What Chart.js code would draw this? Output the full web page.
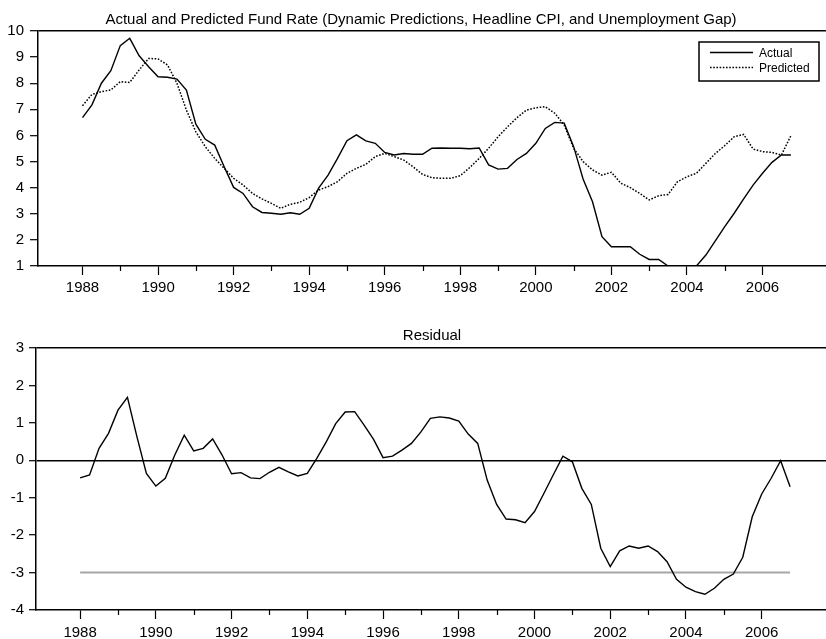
<!DOCTYPE html>
<html><head><meta charset="utf-8">
<script src="https://cdn.jsdelivr.net/npm/chart.js@4.4.0/dist/chart.umd.min.js"></script>
<style>
html,body{margin:0;padding:0;background:#fff;}
#wrap{position:relative;width:826px;height:639px;overflow:hidden;background:#fff;}
#c1{position:absolute;left:0;top:0;}
#c2{position:absolute;left:0;top:300px;}
</style></head><body>
<div id="wrap"><canvas id="c1" width="826" height="300"></canvas><canvas id="c2" width="826" height="339"></canvas></div>
<script>
const quarters = [
 '1988Q1','1988Q2','1988Q3','1988Q4','1989Q1','1989Q2','1989Q3','1989Q4',
 '1990Q1','1990Q2','1990Q3','1990Q4','1991Q1','1991Q2','1991Q3','1991Q4',
 '1992Q1','1992Q2','1992Q3','1992Q4','1993Q1','1993Q2','1993Q3','1993Q4',
 '1994Q1','1994Q2','1994Q3','1994Q4','1995Q1','1995Q2','1995Q3','1995Q4',
 '1996Q1','1996Q2','1996Q3','1996Q4','1997Q1','1997Q2','1997Q3','1997Q4',
 '1998Q1','1998Q2','1998Q3','1998Q4','1999Q1','1999Q2','1999Q3','1999Q4',
 '2000Q1','2000Q2','2000Q3','2000Q4','2001Q1','2001Q2','2001Q3','2001Q4',
 '2002Q1','2002Q2','2002Q3','2002Q4','2003Q1','2003Q2','2003Q3','2003Q4',
 '2004Q1','2004Q2','2004Q3','2004Q4','2005Q1','2005Q2','2005Q3','2005Q4',
 '2006Q1','2006Q2','2006Q3','2006Q4'
];
const actualRate = [
 6.68,7.17,8.00,8.48, 9.44,9.72,9.05,8.63, 8.25,8.23,8.16,7.74, 6.43,5.85,5.63,4.80,
 4.01,3.78,3.27,3.05, 3.02,2.98,3.04,2.98, 3.21,3.98,4.48,5.12, 5.80,6.02,5.79,5.70,
 5.35,5.25,5.31,5.28, 5.28,5.51,5.52,5.51, 5.51,5.49,5.52,4.87, 4.71,4.74,5.08,5.31,
 5.70,6.27,6.50,6.47, 5.57,4.33,3.46,2.12, 1.74,1.74,1.74,1.45, 1.25,1.25,1.00,1.00,
 1.00,1.00,1.42,1.96, 2.51,3.02,3.57,4.10, 4.55,4.97,5.25,5.25
];
const predictedRate = [
 7.14,7.57,7.68,7.74, 8.06,8.03,8.51,8.95, 8.93,8.70,8.00,6.97, 6.14,5.57,5.12,4.74,
 4.36,4.10,3.78,3.57, 3.40,3.21,3.36,3.44, 3.62,3.91,4.04,4.23, 4.55,4.74,4.89,5.19,
 5.31,5.19,5.06,4.80, 4.51,4.38,4.36,4.36, 4.46,4.77,5.12,5.51, 5.95,6.33,6.68,6.97,
 7.06,7.10,6.85,6.40, 5.51,5.00,4.68,4.48, 4.59,4.17,4.00,3.78, 3.53,3.69,3.74,4.23,
 4.42,4.55,4.93,5.31, 5.61,5.95,6.04,5.48, 5.38,5.35,5.25,5.99
];
const residual = [
 -0.47,-0.39,0.32,0.72, 1.34,1.68,0.63,-0.35, -0.69,-0.48,0.14,0.67, 0.25,0.32,0.57,0.14,
 -0.36,-0.33,-0.47,-0.49, -0.32,-0.19,-0.31,-0.42, -0.35,0.05,0.49,0.98, 1.29,1.30,0.94,0.56,
 0.07,0.11,0.27,0.45, 0.76,1.12,1.16,1.13, 1.05,0.70,0.45,-0.53, -1.18,-1.57,-1.59,-1.67,
 -1.37,-0.88,-0.38,0.11, -0.04,-0.75,-1.18,-2.35, -2.84,-2.42,-2.29,-2.35, -2.29,-2.44,-2.71,-3.18,
 -3.39,-3.51,-3.58,-3.42, -3.18,-3.04,-2.59,-1.51, -0.90,-0.48,-0.01,-0.71
];
const residualReference = -3;
const xTickLabels = ['1988','1990','1992','1994','1996','1998','2000','2002','2004','2006'];
const xMinorTicks = ['1989','1991','1993','1995','1997','1999','2001','2003','2005'];
const topYTicks = [1,2,3,4,5,6,7,8,9,10];
const resYTicks = [-4,-3,-2,-1,0,1,2,3];
const topTitle = 'Actual and Predicted Fund Rate (Dynamic Predictions, Headline CPI, and Unemployment Gap)';
const bottomTitle = 'Residual';

const FONT = "'Liberation Sans', Arial, Helvetica, sans-serif";
Chart.defaults.font.family = FONT;
Chart.defaults.color = '#000';

function qToNum(q){ const p = q.split('Q'); return +p[0] + (+p[1]-1)/4; }
const xs = quarters.map(qToNum);
const pts = arr => arr.map((v,i)=>({x:xs[i], y:v}));

const decor = {
  id:'decor',
  afterDraw(chart, args, opts){
    const {ctx, chartArea, scales} = chart;
    ctx.save();
    ctx.strokeStyle = '#000'; ctx.lineWidth = 1.2;
    xMinorTicks.forEach(l=>{
      const px = Math.round(scales.x.getPixelForValue(+l)) + 0.5;
      ctx.beginPath(); ctx.moveTo(px, chartArea.bottom); ctx.lineTo(px, chartArea.bottom + 5); ctx.stroke();
    });
    ctx.fillStyle = '#000';
    ctx.font = '15px ' + FONT; ctx.textAlign = 'center'; ctx.textBaseline = 'alphabetic';
    ctx.fillText(opts.text, opts.x, opts.y);
    if (opts.legend) {
      const L = chartArea.right - 127, T = chartArea.top + 11, W = 120, H = 39;
      ctx.lineWidth = 1.5; ctx.strokeRect(L, T, W, H);
      ctx.font = '12px ' + FONT; ctx.textAlign = 'left';
      chart.data.datasets.forEach((ds,i)=>{
        const y = T + 10.5 + i*15;
        ctx.beginPath(); ctx.setLineDash(ds.borderDash || []); ctx.lineWidth = ds.borderWidth;
        ctx.moveTo(L+11, y); ctx.lineTo(L+54, y); ctx.stroke();
        ctx.setLineDash([]);
        ctx.fillText(ds.label, L+60, y + 4.4);
      });
    }
    ctx.restore();
  }
};

function xScale(min, max, height, pad){
  return {
    type:'linear', min:min, max:max,
    afterBuildTicks: s => { s.ticks = xTickLabels.map(l => ({value:+l})); },
    afterFit: s => { s.height = height; },
    grid:{drawOnChartArea:false, drawTicks:true, tickLength:9, tickColor:'#000', tickWidth:1.2},
    border:{display:true, color:'#000', width:1.5},
    ticks:{callback: v => String(v), padding:pad, maxRotation:0, autoSkip:false, font:{size:15}}
  };
}
function yScale(min, max, ticks, width, tl, pad, blackVals){
  return {
    min:min, max:max,
    afterBuildTicks: s => { s.ticks = ticks.map(v => ({value:v})); },
    afterFit: s => { s.width = width; },
    grid:{color: c => (c.tick && blackVals.includes(c.tick.value)) ? '#000' : 'rgba(0,0,0,0)',
          lineWidth:1.4, drawTicks:true, tickLength:tl, tickColor:'#000', tickWidth:1.2},
    border:{display:true, color:'#000', width:1.5},
    ticks:{callback: v => String(v), padding:pad, font:{size:15}}
  };
}

new Chart(document.getElementById('c1'), {
  type:'line',
  data:{datasets:[
    {label:'Actual', data:pts(actualRate), borderColor:'#000', borderWidth:1.4, pointRadius:0, tension:0, fill:false},
    {label:'Predicted', data:pts(predictedRate), borderColor:'#000', borderWidth:1.5, borderDash:[1.6,1.6], pointRadius:0, tension:0, fill:false}
  ]},
  options:{
    responsive:false, animation:false, devicePixelRatio:1,
    layout:{padding:{top:31,left:0,right:0,bottom:0}},
    plugins:{legend:{display:false}, title:{display:false}, tooltip:{enabled:false},
      decor:{text:topTitle, x:421, y:24, legend:true}},
    scales:{ x:xScale(1986.822, 2007.68, 34, 3.5), y:yScale(1, 10, topYTicks, 38, 8, 6, [10]) }
  },
  plugins:[decor]
});

new Chart(document.getElementById('c2'), {
  type:'line',
  data:{datasets:[
    {label:'Residual', data:pts(residual), borderColor:'#000', borderWidth:1.4, pointRadius:0, tension:0, fill:false},
    {label:'Reference', data:[{x:xs[0], y:residualReference},{x:xs[xs.length-1], y:residualReference}], borderColor:'#a6a6a6', borderWidth:2, pointRadius:0, fill:false}
  ]},
  options:{
    responsive:false, animation:false, devicePixelRatio:1,
    layout:{padding:{top:48,left:0,right:0,bottom:0}},
    plugins:{legend:{display:false}, title:{display:false}, tooltip:{enabled:false},
      decor:{text:bottomTitle, x:432, y:40, legend:false}},
    scales:{ x:xScale(1986.835, 2007.698, 29, 5), y:yScale(-4, 3, resYTicks, 36, 7, 5, [3,0]) }
  },
  plugins:[decor]
});
</script>
</body></html>
